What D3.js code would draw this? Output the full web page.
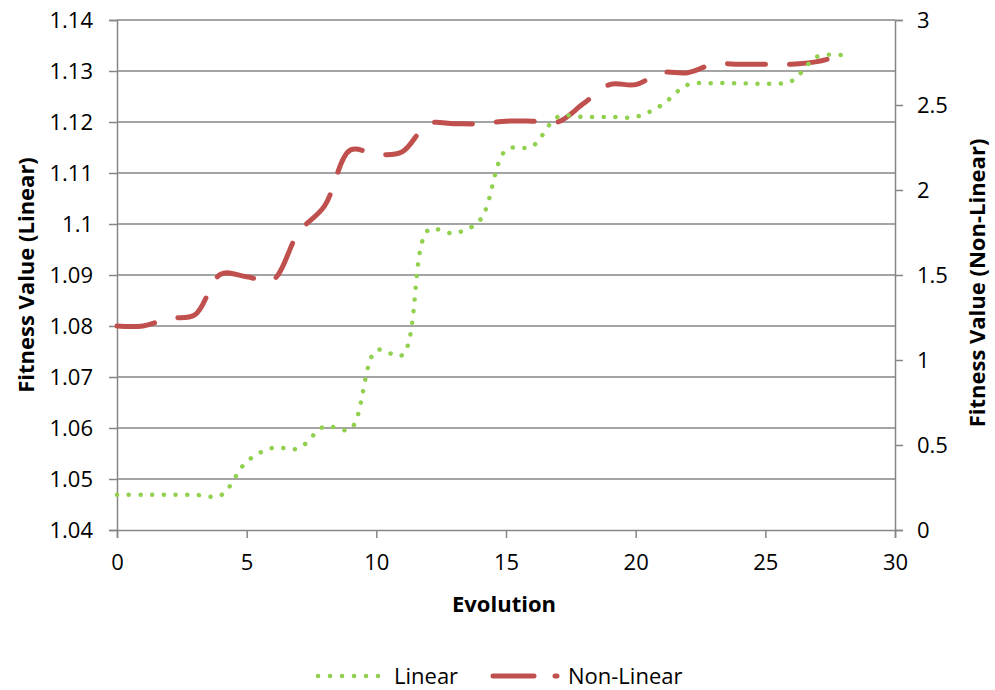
<!DOCTYPE html>
<html><head><meta charset="utf-8">
<script src="https://cdn.jsdelivr.net/npm/d3@7"></script>
<style>body{margin:0;background:#fff}svg{display:block}text{font-family:"Open Sans",sans-serif;fill:#000}</style>
</head><body>
<svg id="c" width="995" height="690"></svg>
<script>
const evolution = d3.range(0, 29);
const linearValues = [1.0469,1.0469,1.0469,1.0469,1.0468,1.0534,1.0561,1.0560,1.0603,1.0598,1.0752,1.0743,1.0988,1.0982,1.1008,1.1145,1.1152,1.1210,1.1210,1.1210,1.1210,1.1233,1.1273,1.1276,1.1276,1.1275,1.1280,1.1328,1.1331];
const nonLinearValues = [1.20,1.20,1.245,1.265,1.505,1.49,1.47,1.75,1.905,2.235,2.21,2.225,2.39,2.39,2.39,2.405,2.405,2.40,2.51,2.62,2.62,2.69,2.69,2.74,2.74,2.74,2.74,2.755,2.795];
const leftTicks = [1.04,1.05,1.06,1.07,1.08,1.09,1.1,1.11,1.12,1.13,1.14];
const rightTicks = [0,0.5,1,1.5,2,2.5,3];
const xTicks = [0,5,10,15,20,25,30];

const svg = d3.select("#c");
const L = 117, R = 895, T = 20, B = 530;
const x = d3.scaleLinear().domain([0,30]).range([L,R]);
const yL = d3.scaleLinear().domain([1.04,1.14]).range([B,T]);
const yR = d3.scaleLinear().domain([0,3]).range([B,T]);
const grid = "#868686";
const fs = "22px";

svg.append("g").selectAll("line").data(leftTicks.slice(1)).join("line")
  .attr("x1",L).attr("x2",R).attr("y1",d=>yL(d)).attr("y2",d=>yL(d))
  .attr("stroke",grid).attr("stroke-width",1.5);

const ga = svg.append("g").attr("transform",`translate(${L},0)`)
  .call(d3.axisLeft(yL).tickValues(leftTicks).tickFormat(d=>String(+d.toFixed(2))).tickSize(8).tickPadding(16));
const gr = svg.append("g").attr("transform",`translate(${R},0)`)
  .call(d3.axisRight(yR).tickValues(rightTicks).tickFormat(d=>String(d)).tickSize(8).tickPadding(14));
const gb = svg.append("g").attr("transform",`translate(0,${B})`)
  .call(d3.axisBottom(x).tickValues(xTicks).tickSize(8).tickPadding(16));
[ga,gr,gb].forEach(g=>{
  g.selectAll(".domain").attr("stroke",grid).attr("stroke-width",1.5);
  g.selectAll(".tick line").attr("stroke",grid).attr("stroke-width",1.5);
  g.selectAll("text").style("font-size",fs).style("font-family","'Open Sans', sans-serif").attr("fill","#000");
});

const lineL = d3.line().x((d,i)=>x(evolution[i])).y(d=>yL(d)).curve(d3.curveCatmullRom.alpha(0.5));
const lineR = d3.line().x((d,i)=>x(evolution[i])).y(d=>yR(d)).curve(d3.curveCatmullRom.alpha(0.5));
svg.append("path").attr("d",lineR(nonLinearValues)).attr("fill","none")
  .attr("stroke","#c0504d").attr("stroke-width",5).attr("stroke-linecap","round").attr("stroke-dasharray","38 24");
svg.append("path").attr("d",lineL(linearValues)).attr("fill","none")
  .attr("stroke","#92d050").attr("stroke-width",4.5).attr("stroke-linecap","round").attr("stroke-dasharray","0.1 11.6");

svg.append("text").attr("x",504).attr("y",612).attr("text-anchor","middle")
  .style("font-size","22px").style("font-weight","bold").text("Evolution");
svg.append("text").attr("transform",`translate(34,275) rotate(-90)`).attr("text-anchor","middle")
  .style("font-size","22px").style("font-weight","bold").text("Fitness Value (Linear)");
svg.append("text").attr("transform",`translate(985,283) rotate(-90)`).attr("text-anchor","middle")
  .style("font-size","22px").style("font-weight","bold").text("Fitness Value (Non-Linear)");

const lg = svg.append("g");
lg.append("line").attr("x1",318).attr("x2",378).attr("y1",676).attr("y2",676)
  .attr("stroke","#92d050").attr("stroke-width",4.5).attr("stroke-linecap","round").attr("stroke-dasharray","0.1 11.9");
lg.append("text").attr("x",394).attr("y",684).style("font-size",fs).text("Linear");
lg.append("line").attr("x1",493).attr("x2",557).attr("y1",676).attr("y2",676)
  .attr("stroke","#c0504d").attr("stroke-width",5).attr("stroke-linecap","round").attr("stroke-dasharray","41 21");
lg.append("text").attr("x",568).attr("y",684).style("font-size",fs).text("Non-Linear");
</script>
</body></html>
